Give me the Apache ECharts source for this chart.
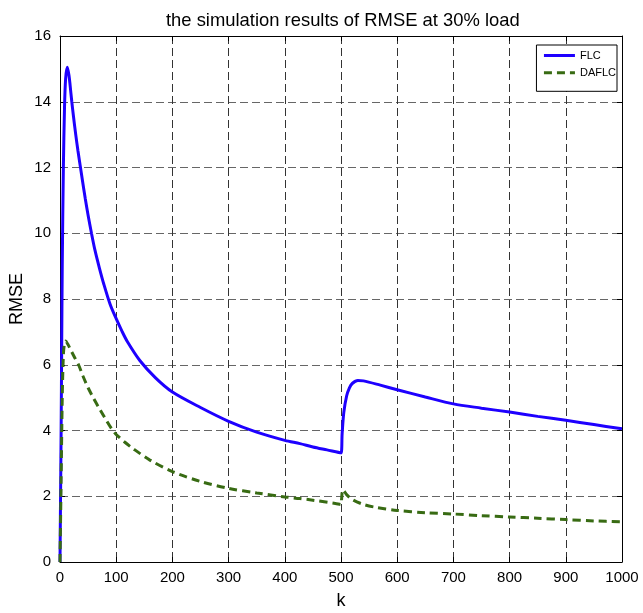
<!DOCTYPE html>
<html>
<head>
<meta charset="utf-8">
<script src="https://cdn.jsdelivr.net/npm/echarts@6/dist/echarts.min.js"></script>
<style>
  html, body { margin: 0; padding: 0; background: #fff; }
  #chart { width: 643px; height: 613px; }
</style>
</head>
<body>
<div id="chart"></div>
<script>
// values
var titleText = 'the simulation results of RMSE at 30% load';
var seriesNames = ['FLC', 'DAFLC'];
var xTicks = [0, 100, 200, 300, 400, 500, 600, 700, 800, 900, 1000];
var yTicks = [0, 2, 4, 6, 8, 10, 12, 14, 16];

var kFLC = [0, 1, 2, 3, 4, 6, 8, 10, 13, 16, 18, 21, 24, 28, 32, 36, 40, 45, 50, 56, 62, 70, 78, 89, 100, 110, 120, 142, 170, 200,
  250, 300, 350, 400, 427, 450, 475, 500, 502, 505, 510, 515, 520, 530, 540, 570, 600, 650, 700,
  750, 800, 850, 900, 950, 1000];
var vFLC = [0, 2, 4, 6.5, 9, 12, 13.8, 14.7, 15.05, 14.8, 14.5, 14, 13.55, 13, 12.5, 12.05, 11.6, 11.05, 10.55, 10, 9.5, 8.95, 8.45, 7.85, 7.4, 7.03, 6.7, 6.13, 5.6, 5.17,
  4.7, 4.28, 3.95, 3.7, 3.6, 3.5, 3.41, 3.32, 3.9, 4.55, 5.05, 5.3, 5.43, 5.52, 5.51, 5.38, 5.24, 5.02, 4.81,
  4.68, 4.56, 4.43, 4.31, 4.18, 4.05];

var kDAFLC = [0, 2, 4, 6, 8, 10, 14, 20, 26, 33, 41, 50, 60, 70, 80, 92, 100, 115, 130, 160, 200, 250, 300, 350, 400, 427,
  450, 490, 500, 501, 503, 506, 510, 520, 540, 560, 600, 650, 700, 750, 800, 850, 900, 950, 1000];
var vDAFLC = [0, 2.5, 5, 6.3, 6.65, 6.72, 6.62, 6.42, 6.22, 6.0, 5.65, 5.3, 4.97, 4.67, 4.38, 4.05, 3.88, 3.65, 3.45, 3.1, 2.75, 2.45, 2.24, 2.1, 1.98, 1.93,
  1.88, 1.78, 1.75, 1.9, 2.2, 2.15, 2.05, 1.9, 1.75, 1.67, 1.57, 1.5, 1.46, 1.41, 1.37, 1.33, 1.29, 1.25, 1.22];

function pairs(ks, vs) {
  return ks.map(function (k, i) { return [k, vs[i]]; });
}

var font = 'Liberation Sans, Arial, Helvetica, sans-serif';
var gridDashX = { color: '#333', type: [8, 4], width: 1 };
var gridDashY = { color: '#666', type: [8, 4], width: 1 };

var chart = echarts.init(document.getElementById('chart'));
chart.setOption({
  animation: false,
  backgroundColor: '#fff',
  title: {
    text: titleText,
    left: 161, top: 7,
    textStyle: { fontFamily: font, fontSize: 18.4, fontWeight: 'normal', color: '#000' }
  },
  legend: {
    data: seriesNames,
    orient: 'vertical',
    right: 26, top: 45,
    padding: [5, 1, 13, 6],
    itemGap: 6.3,
    itemWidth: 31, itemHeight: 8,
    backgroundColor: '#fff',
    borderColor: '#000', borderWidth: 1, borderRadius: 0,
    itemStyle: { opacity: 0 },
    lineStyle: { width: 3 },
    textStyle: { fontFamily: font, fontSize: 11, color: '#000' }
  },
  grid: { left: 60, right: 21, top: 36, bottom: 51, containLabel: false, outerBoundsMode: 'none' },
  xAxis: [{
    type: 'value', min: 0, max: 1000, interval: 100,
    name: 'k', nameLocation: 'middle', nameGap: 30, nameMoveOverlap: false,
    nameTextStyle: { fontFamily: font, fontSize: 18, color: '#000' },
    axisLine: { onZero: false, lineStyle: { color: '#000', width: 1 } },
    axisTick: { inside: true, length: 5, lineStyle: { color: '#000' } },
    axisLabel: { fontFamily: font, fontSize: 15, color: '#000', margin: 8,
      formatter: function (v) { return String(v); } },
    splitLine: { show: true, lineStyle: gridDashX }
  }, {
    type: 'value', position: 'top', min: 0, max: 1000, interval: 100,
    axisLine: { onZero: false, lineStyle: { color: '#000', width: 1 } },
    axisTick: { inside: true, length: 5, lineStyle: { color: '#000' } },
    axisLabel: { show: false },
    splitLine: { show: false }
  }],
  yAxis: [{
    type: 'value', min: 0, max: 16, interval: 2,
    name: 'RMSE', nameLocation: 'middle', nameGap: 34, nameRotate: 90, nameMoveOverlap: false,
    nameTextStyle: { fontFamily: font, fontSize: 18, color: '#000' },
    axisLine: { show: true, onZero: false, lineStyle: { color: '#000', width: 1 } },
    axisTick: { show: true, inside: true, length: 5, lineStyle: { color: '#000' } },
    axisLabel: { fontFamily: font, fontSize: 15, color: '#000', margin: 9 },
    splitLine: { show: true, lineStyle: gridDashY }
  }, {
    type: 'value', position: 'right', min: 0, max: 16, interval: 2,
    axisLine: { show: true, onZero: false, lineStyle: { color: '#000', width: 1 } },
    axisTick: { show: true, inside: true, length: 5, lineStyle: { color: '#000' } },
    axisLabel: { show: false },
    splitLine: { show: false }
  }],
  series: [{
    name: seriesNames[0],
    type: 'line',
    data: pairs(kFLC, vFLC),
    showSymbol: false, symbol: 'none',
    smooth: 0.3,
    lineStyle: { color: '#1e00ff', width: 3 },
    itemStyle: { color: '#1e00ff' },
    z: 3
  }, {
    name: seriesNames[1],
    type: 'line',
    data: pairs(kDAFLC, vDAFLC),
    showSymbol: false, symbol: 'none',
    smooth: 0.3,
    lineStyle: { color: '#386b13', width: 3, type: [8, 5] },
    itemStyle: { color: '#386b13' },
    z: 4
  }]
});
</script>
</body>
</html>
